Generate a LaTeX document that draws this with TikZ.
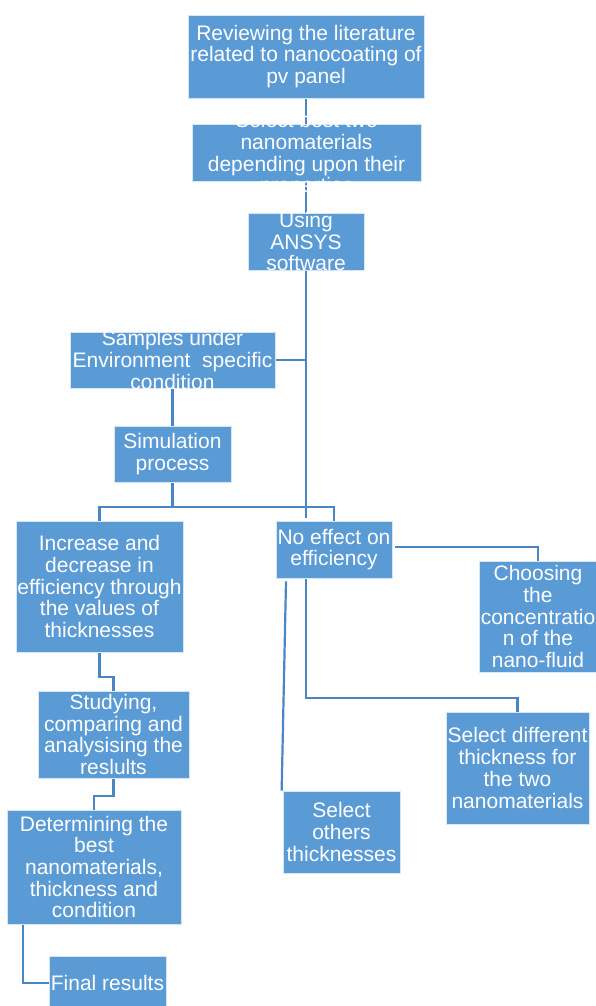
\documentclass[tikz,border=0pt]{standalone}
\usepackage{fontspec}
\setmainfont{Liberation Sans}
\definecolor{boxblue}{HTML}{5B9BD5}
\definecolor{lineblue}{HTML}{4A86C6}
\pgfdeclarelayer{back}
\pgfsetlayers{back,main}

\begin{document}
\begin{tikzpicture}[
    x=1pt, y=-1pt,
    box/.style={fill=boxblue, draw=white!75!boxblue, line width=0.7pt, inner sep=0pt},
    txt/.style={text=white, align=center, inner sep=0pt, font=\fontsize{21}{21.7}\selectfont},
    link/.style={draw=lineblue, line width=2.2pt}
]
\useasboundingbox (0,0) rectangle (595,1006);
\node[box, minimum width=236pt, minimum height=83pt, label={[txt]center:{Reviewing the literature\\related to nanocoating of\\pv panel}}] (review) at (306,56.5) {};
\node[box, minimum width=229pt, minimum height=57pt, label={[txt, yshift=-2.5pt]center:{Select best two\\nanomaterials\\depending upon their\\properties}}] (select) at (306.5,152.5) {};
\node[box, minimum width=116pt, minimum height=57pt, label={[txt]center:{Using\\ANSYS\\software}}] (ansys) at (306,241.5) {};
\node[box, minimum width=205pt, minimum height=56pt, label={[txt]center:{Samples under\\Environment~ specific\\condition}}] (samples) at (172.5,360) {};
\node[box, minimum width=117pt, minimum height=56pt, label={[txt]center:{Simulation\\process}}] (simulation) at (172.5,454) {};
\node[box, minimum width=167pt, minimum height=131pt, label={[txt]center:{Increase and\\decrease in\\efficiency through\\the values of\\thicknesses}}] (increase) at (99.5,586.5) {};
\node[box, minimum width=151pt, minimum height=87pt, label={[txt]center:{Studying,\\comparing and\\analysising the\\reslults}}] (studying) at (113.5,734.5) {};
\node[box, minimum width=174pt, minimum height=114pt, label={[txt]center:{Determining the\\best\\nanomaterials,\\thickness and\\condition}}] (determining) at (94,867) {};
\node[box, minimum width=117pt, minimum height=54pt, label={[txt]center:{Final results}}] (final) at (107.5,983) {};
\node[box, minimum width=116pt, minimum height=57pt, label={[txt]center:{No effect on\\efficiency}}] (noeffect) at (334,549.5) {};
\node[box, minimum width=118pt, minimum height=111pt, label={[txt]center:{Choosing\\the\\concentratio\\n of the\\nano-fluid}}] (choosing) at (538,616.5) {};
\node[box, minimum width=143pt, minimum height=112pt, label={[txt]center:{Select different\\thickness for\\the two\\nanomaterials}}] (different) at (517.5,768) {};
\node[box, minimum width=117pt, minimum height=82pt, label={[txt]center:{Select\\others\\thicknesses}}] (others) at (341.5,832) {};
\coordinate (busL) at (99.5,507);
\coordinate (trunkend) at (306,518);
\begin{pgfonlayer}{back}
\draw[link] (review.south) -- (review.south |- select.north);
\draw[link] (select.south) -- (select.south -| ansys.south) -- (ansys.north);
\draw[link] (ansys.south) -- (trunkend);
\draw[link] (samples.east) -- (samples.east -| ansys.south);
\draw[link] (samples.south) -- (simulation.north);
\draw[link] (simulation.south) -- (simulation.south |- busL);
\draw[link] (increase.north) -- (busL) -- (busL -| noeffect.north) -- (noeffect.north);
\draw[link] (increase.south) -- ++(0,25) -| (studying.north);
\draw[link] (studying.south) -- ++(0,18) -| (determining.north);
\draw[link] ([xshift=16pt]determining.south west) |- (final.west);
\draw[link] ([xshift=3pt,yshift=2.5pt]noeffect.east) -| (choosing.north);
\draw[link] ([xshift=-28pt]noeffect.south) -- ++(0,120) -| (different.north);
\draw[link] ([xshift=-48pt,yshift=-3pt]noeffect.south) -- ([xshift=-1pt]others.north west);
\end{pgfonlayer}
\end{tikzpicture}
\end{document}
